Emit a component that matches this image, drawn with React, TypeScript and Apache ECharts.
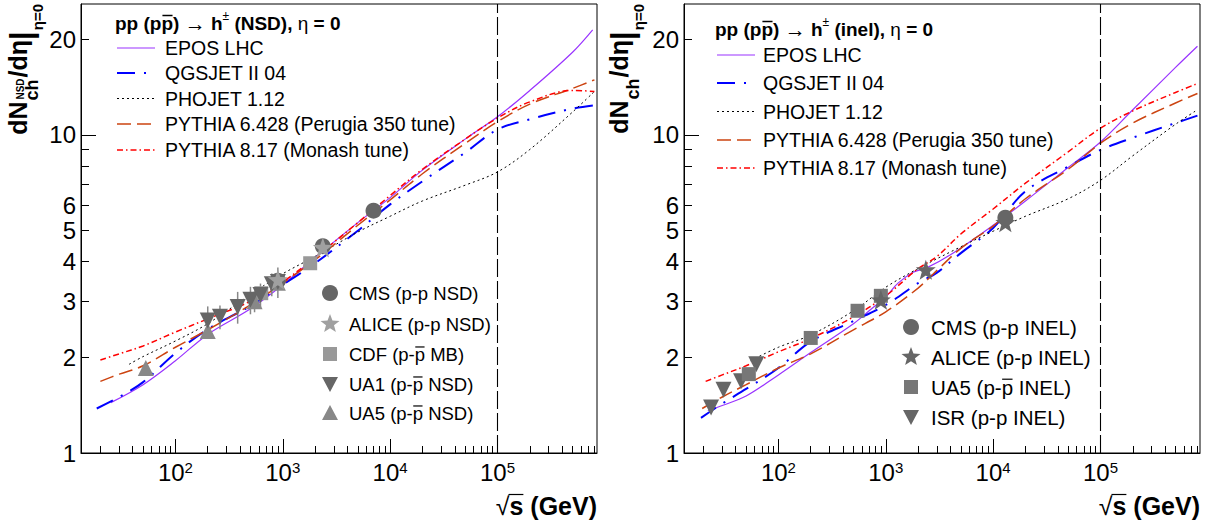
import React, { useEffect, useRef } from "react";
import * as echarts from "echarts";

// ---------------- axes ----------------
const X_MIN = 13.2;
const X_MAX = 845000;
const Y_MIN = 1;
const Y_MAX = 25.8;
const X_LABEL_TICKS = [100, 1000, 10000, 100000];
const X_MINOR_TICKS = [
  20, 30, 40, 50, 60, 70, 80, 90,
  200, 300, 400, 500, 600, 700, 800, 900,
  2000, 3000, 4000, 5000, 6000, 7000, 8000, 9000,
  20000, 30000, 40000, 50000, 60000, 70000, 80000, 90000,
  200000, 300000, 400000, 500000, 600000, 700000, 800000,
];
const Y_LABEL_TICKS = [1, 2, 3, 4, 5, 6, 10, 20];
const Y_MAJOR_TICKS = [1, 10];
const Y_MINOR_TICKS = [2, 3, 4, 5, 6, 7, 8, 9, 20];
const LHC_LINE_X = 100000;

const MODEL_NAMES = [
  "EPOS LHC",
  "QGSJET II 04",
  "PHOJET 1.12",
  "PYTHIA 6.428 (Perugia 350 tune)",
  "PYTHIA 8.17 (Monash tune)",
];

// ---------------- NSD panel (left) ----------------
const NSD_EPOS_X = [25, 50, 100, 200, 500, 1000, 2000, 5000, 10000, 20000, 50000, 100000, 200000, 500000, 770000];
const NSD_EPOS_Y = [1.44, 1.64, 1.95, 2.36, 2.84, 3.38, 4.12, 5.3, 6.35, 7.75, 9.7, 11.4, 13.8, 18.2, 21.4];
const NSD_QGS_X = [18.5, 30, 50, 100, 200, 500, 1000, 2000, 5000, 10000, 20000, 50000, 100000, 200000, 500000, 800000];
const NSD_QGS_Y = [1.38, 1.5, 1.67, 2.06, 2.45, 2.9, 3.38, 3.95, 5.0, 6.05, 7.15, 8.8, 10.4, 11.2, 12.1, 12.4];
const NSD_PHO_X = [37, 50, 100, 200, 500, 1000, 2000, 5000, 10000, 20000, 50000, 100000, 200000, 500000, 800000];
const NSD_PHO_Y = [1.9, 2.01, 2.25, 2.55, 3.15, 3.66, 4.15, 4.95, 5.55, 6.2, 6.95, 7.65, 9.0, 11.8, 13.7];
const NSD_PY6_X = [20, 30, 50, 100, 200, 500, 1000, 2000, 5000, 10000, 20000, 50000, 100000, 200000, 500000, 800000];
const NSD_PY6_Y = [1.68, 1.77, 1.88, 2.15, 2.44, 2.92, 3.42, 4.05, 5.2, 6.25, 7.55, 9.4, 11.0, 12.5, 14.0, 14.9];
const NSD_PY8_X = [20, 30, 50, 100, 200, 500, 1000, 2000, 5000, 10000, 20000, 50000, 100000, 200000, 500000, 800000];
const NSD_PY8_Y = [1.96, 2.05, 2.17, 2.4, 2.64, 3.0, 3.45, 4.12, 5.3, 6.45, 7.8, 9.7, 11.3, 12.7, 13.8, 13.7];

const CMS_NSD_X = [900, 2360, 7000];
const CMS_NSD_Y = [3.48, 4.47, 5.78];
const CMS_NSD_ERR = [0.1, 0.1, 0.15];
const ALICE_NSD_X = [900, 2360];
const ALICE_NSD_Y = [3.51, 4.43];
const ALICE_NSD_ERR = [0.12, 0.12];
const CDF_X = [630, 1800];
const CDF_Y = [3.18, 3.95];
const CDF_ERR = [0.1, 0.12];
const UA1_X = [200, 260, 380, 500, 620, 790, 900];
const UA1_Y = [2.61, 2.68, 2.88, 3.03, 3.14, 3.39, 3.45];
const UA1_ERR = [0.28, 0.23, 0.33, 0.3, 0.27, 0.28, 0.38];
const UA5_NSD_X = [53, 200, 546, 900];
const UA5_NSD_Y = [1.85, 2.42, 3.0, 3.43];
const UA5_NSD_ERR = [0.05, 0.1, 0.23, 0.1];

// ---------------- INEL panel (right) ----------------
const INEL_EPOS_X = [22, 30, 50, 100, 200, 500, 700, 1000, 1300, 1800, 2400, 4000, 10000, 20000, 50000, 100000, 200000, 500000, 800000];
const INEL_EPOS_Y = [1.36, 1.41, 1.51, 1.76, 2.07, 2.55, 2.8, 3.1, 3.42, 3.7, 3.82, 4.2, 5.2, 6.2, 7.9, 9.5, 12.0, 16.3, 19.0];
const INEL_QGS_X = [19, 30, 50, 100, 200, 500, 1000, 2000, 3000, 5000, 10000, 20000, 50000, 100000, 200000, 500000, 800000];
const INEL_QGS_Y = [1.29, 1.43, 1.59, 1.85, 2.24, 2.6, 2.92, 3.42, 3.69, 4.25, 5.1, 6.65, 7.95, 8.97, 9.8, 10.9, 11.5];
const INEL_PHO_X = [55, 100, 200, 500, 1000, 2000, 5000, 10000, 20000, 50000, 100000, 200000, 500000, 800000];
const INEL_PHO_Y = [1.95, 2.15, 2.35, 2.8, 3.32, 3.8, 4.45, 4.98, 5.55, 6.3, 7.2, 8.6, 10.8, 12.0];
const INEL_PY6_X = [19.5, 30, 50, 100, 200, 500, 1000, 2000, 3000, 5000, 10000, 20000, 50000, 100000, 200000, 500000, 800000];
const INEL_PY6_Y = [1.38, 1.5, 1.64, 1.85, 2.05, 2.44, 2.78, 3.3, 3.75, 4.4, 5.17, 6.3, 7.8, 9.42, 10.9, 12.6, 13.5];
const INEL_PY8_X = [21, 30, 50, 100, 200, 500, 1000, 2000, 3000, 5000, 10000, 20000, 50000, 100000, 200000, 500000, 800000];
const INEL_PY8_Y = [1.68, 1.76, 1.88, 2.08, 2.29, 2.68, 3.12, 3.8, 4.15, 4.88, 5.85, 7.05, 8.85, 10.5, 11.9, 13.6, 14.5];

const CMS_INEL_X = [13000];
const CMS_INEL_Y = [5.49];
const CMS_INEL_ERR = [0.15];
const ALICE_INEL_X = [900, 2360, 13000];
const ALICE_INEL_Y = [3.03, 3.77, 5.31];
const ALICE_INEL_ERR = [0.06, 0.15, 0.18];
const UA5_INEL_X = [53, 200, 546, 900];
const UA5_INEL_Y = [1.77, 2.3, 2.8, 3.12];
const UA5_INEL_ERR = [0.05, 0.05, 0.08, 0.1];
const ISR_X = [23.6, 30.8, 44.9, 62.2];
const ISR_Y = [1.39, 1.58, 1.68, 1.9];
const ISR_ERR = [0.05, 0.05, 0.05, 0.05];

// ---------------- styles ----------------
const FF = "'Liberation Sans', Arial, Helvetica, sans-serif";
const MODEL_STYLES = [
  { color: "#9933ff", width: 1.2, dash: "solid" as any },
  { color: "#0000ff", width: 2, dash: [18, 9, 2, 9] },
  { color: "#000000", width: 1, dash: [2, 3] },
  { color: "#cc4411", width: 1.5, dash: [14, 6] },
  { color: "#ff0000", width: 1.5, dash: [6, 3, 1.5, 3] },
];

let measureCtx: CanvasRenderingContext2D | null = null;
function tw(text: string, size: number, weight: string = "normal"): number {
  if (!measureCtx) measureCtx = document.createElement("canvas").getContext("2d");
  measureCtx!.font = `${weight} ${size}px ${FF}`;
  return measureCtx!.measureText(text).width;
}

function txt(x: number, y: number, text: string, size: number, weight = "normal", align = "left"): any {
  return {
    type: "text",
    x,
    y,
    silent: true,
    style: {
      text,
      fontSize: size,
      fontWeight: weight,
      fontFamily: FF,
      fill: "#000",
      align,
      verticalAlign: "middle",
      textAlign: align,
      textVerticalAlign: "middle",
    },
  };
}

function hline(x1: number, x2: number, y: number, w = 1.3): any {
  return { type: "line", silent: true, shape: { x1, y1: y, x2, y2: y }, style: { stroke: "#000", lineWidth: w } };
}

function header(x0: number, yc: number, channel: string): any[] {
  const B = 19;
  const segs = [
    { t: "pp (pp) ", w: "bold", s: B, dy: 0 },
    { t: "\u2192", w: "normal", s: 21, dy: 0 },
    { t: " h", w: "bold", s: B, dy: 0 },
    { t: "\u00b1", w: "normal", s: 12, dy: -7 },
    { t: ` (${channel}), `, w: "bold", s: B, dy: 0 },
    { t: "\u03b7", w: "normal", s: B, dy: 0 },
    { t: " = 0", w: "bold", s: B, dy: 0 },
  ];
  const els: any[] = [];
  let x = x0;
  for (const sg of segs) {
    els.push(txt(x, yc + sg.dy, sg.t, sg.s, sg.w));
    x += tw(sg.t, sg.s, sg.w);
  }
  const a = x0 + tw("pp (p", B, "bold");
  const b = x0 + tw("pp (pp", B, "bold");
  els.push(hline(a + 1, b - 0.5, yc - 7.5, 1.5));
  return els;
}

function modelLegend(xLine: number, xText: number, ys: number[]): any[] {
  const els: any[] = [];
  MODEL_NAMES.forEach((name, i) => {
    const st = MODEL_STYLES[i];
    els.push({
      type: "line",
      silent: true,
      shape: { x1: xLine, y1: ys[i], x2: xLine + 38, y2: ys[i] },
      style: { stroke: st.color, lineWidth: st.width, lineDash: Array.isArray(st.dash) ? st.dash : null },
    });
    els.push(txt(xText, ys[i], name, 19.5));
  });
  return els;
}

function starPoints(cx: number, cy: number, R: number): number[][] {
  const pts: number[][] = [];
  for (let k = 0; k < 10; k++) {
    const r = k % 2 === 0 ? R : R * 0.42;
    const a = -Math.PI / 2 + (k * Math.PI) / 5;
    pts.push([cx + r * Math.cos(a), cy + r * Math.sin(a)]);
  }
  return pts;
}

function markerGraphic(kind: string, cx: number, cy: number, color: string): any {
  const style = { fill: color };
  if (kind === "circle") return { type: "circle", silent: true, shape: { cx, cy, r: 8 }, style };
  if (kind === "rect") return { type: "rect", silent: true, shape: { x: cx - 7, y: cy - 7, width: 14, height: 14 }, style };
  if (kind === "star") return { type: "polygon", silent: true, shape: { points: starPoints(cx, cy, 10) }, style };
  if (kind === "tri") return { type: "polygon", silent: true, shape: { points: [[cx, cy - 8], [cx + 8, cy + 7], [cx - 8, cy + 7]] }, style };
  return { type: "polygon", silent: true, shape: { points: [[cx - 8, cy - 7], [cx + 8, cy - 7], [cx, cy + 8]] }, style };
}

function dataLegendItem(kind: string, color: string, xm: number, xt: number, y: number, text: string, size: number, bar: boolean): any[] {
  const els = [markerGraphic(kind, xm, y, color), txt(xt, y, text, size)];
  if (bar) {
    const j = text.indexOf("p-p");
    const a = xt + tw(text.slice(0, j + 2), size);
    const b = xt + tw(text.slice(0, j + 3), size);
    els.push(hline(a + 0.5, b - 0.5, y - size * 0.38, 1.2));
  }
  return els;
}

function yTitle(baseX: number, yTop: number, withNSD: boolean): any {
  const big = 25;
  const ch: any[] = [];
  let u = 0;
  ch.push(txt(u, baseX - 0.35 * big, "dN", big, "bold"));
  u += tw("dN", big, "bold") + 1;
  let sw = tw("ch", 18, "bold");
  ch.push(txt(u, baseX + 5, "ch", 18, "bold"));
  if (withNSD) {
    ch.push(txt(u + 1, baseX - 7, "NSD", 10, "bold"));
    sw = Math.max(sw, tw("NSD", 10, "bold") + 1);
  }
  u += sw + 1;
  ch.push(txt(u, baseX - 0.35 * big, "/d\u03b7", big, "bold"));
  u += tw("/d\u03b7", big, "bold");
  ch.push(txt(u, baseX - 6, "|", 31, "bold"));
  u += tw("|", 31, "bold") + 1;
  ch.push(txt(u, baseX + 10, "\u03b7=0", 15, "bold"));
  u += tw("\u03b7=0", 15, "bold");
  return { type: "group", x: 0, y: yTop + u, rotation: Math.PI / 2, children: ch };
}

function xTitle(xRight: number, yc: number): any[] {
  const S = 25;
  const w1 = tw("\u221a", S, "normal");
  const w2 = tw("s (GeV)", S, "bold");
  const x0 = xRight - w1 - w2;
  return [
    txt(x0, yc, "\u221a", S, "normal"),
    txt(x0 + w1, yc, "s (GeV)", S, "bold"),
    hline(x0 + w1 - 1, x0 + w1 + tw("s", S, "bold"), yc - 11.5, 1.2),
  ];
}

// ---------------- axes builders ----------------
function xAxesFor(gridIndex: number): any[] {
  return [
    {
      type: "log",
      gridIndex,
      min: X_MIN,
      max: X_MAX,
      position: "bottom",
      axisLine: { show: true, lineStyle: { color: "#000", width: 1 } },
      axisTick: { show: true, inside: true, length: 14, customValues: X_LABEL_TICKS, lineStyle: { color: "#000", width: 1 } },
      axisLabel: {
        show: true,
        customValues: X_LABEL_TICKS,
        margin: 7,
        formatter: (v: number) => `{b|10}{s|${Math.round(Math.log10(v))}}`,
        rich: {
          b: { fontSize: 24, fontFamily: FF, color: "#000" },
          s: { fontSize: 15, fontFamily: FF, color: "#000", verticalAlign: "top" },
        },
      },
      splitLine: { show: false },
      minorTick: { show: false },
    },
    {
      type: "log",
      gridIndex,
      min: X_MIN,
      max: X_MAX,
      position: "bottom",
      axisLine: { show: false },
      axisTick: { show: true, inside: true, length: 7, customValues: X_MINOR_TICKS, lineStyle: { color: "#000", width: 1 } },
      axisLabel: { show: false },
      splitLine: { show: false },
    },
  ];
}

function yAxesFor(gridIndex: number): any[] {
  return [
    {
      type: "log",
      gridIndex,
      min: Y_MIN,
      max: Y_MAX,
      position: "left",
      axisLine: { show: true, lineStyle: { color: "#000", width: 1 } },
      axisTick: { show: true, inside: true, length: 15, customValues: Y_MAJOR_TICKS, lineStyle: { color: "#000", width: 1 } },
      axisLabel: {
        show: true,
        customValues: Y_LABEL_TICKS,
        margin: 5,
        fontSize: 24,
        lineHeight: 19,
        fontFamily: FF,
        color: "#000",
        formatter: (v: number) => String(Math.round(v)),
      },
      splitLine: { show: false },
    },
    {
      type: "log",
      gridIndex,
      min: Y_MIN,
      max: Y_MAX,
      position: "left",
      axisLine: { show: false },
      axisTick: { show: true, inside: true, length: 8, customValues: Y_MINOR_TICKS, lineStyle: { color: "#000", width: 1 } },
      axisLabel: { show: false },
      splitLine: { show: false },
    },
  ];
}

function curve(i: number, xs: number[], ys: number[], panel: number, withLine: boolean): any {
  const st = MODEL_STYLES[i];
  const s: any = {
    type: "line",
    name: MODEL_NAMES[i],
    xAxisIndex: panel * 2,
    yAxisIndex: panel * 2,
    data: xs.map((x, k) => [x, ys[k]]),
    showSymbol: false,
    symbol: "none",
    smooth: 0.35,
    silent: true,
    z: 2,
    lineStyle: { color: st.color, width: st.width, type: st.dash },
  };
  if (withLine) {
    s.markLine = {
      silent: true,
      symbol: ["none", "none"],
      label: { show: false },
      lineStyle: { color: "#000", width: 1.1, type: [18, 4] },
      data: [{ xAxis: LHC_LINE_X }],
    };
  }
  return s;
}

function errBars(xs: number[], ys: number[], errs: number[], panel: number, color: string): any {
  return {
    type: "custom",
    xAxisIndex: panel * 2,
    yAxisIndex: panel * 2,
    silent: true,
    z: 3,
    encode: { x: 0, y: [1, 2] },
    data: xs.map((x, k) => [x, ys[k] - errs[k], ys[k] + errs[k]]),
    renderItem: (_p: any, api: any) => {
      const p1 = api.coord([api.value(0), api.value(1)]);
      const p2 = api.coord([api.value(0), api.value(2)]);
      return {
        type: "line",
        shape: { x1: p1[0], y1: p1[1], x2: p2[0], y2: p2[1] },
        style: { stroke: color, lineWidth: 1.5 },
      };
    },
  };
}

const STAR_PATH =
  "path://M0,-10L2.35,-3.24L9.51,-3.09L3.8,1.24L5.88,8.09L0,4.2L-5.88,8.09L-3.8,1.24L-9.51,-3.09L-2.35,-3.24Z";

function points(name: string, xs: number[], ys: number[], panel: number, symbol: string, size: number, color: string, rotate = 0, z = 5): any {
  return {
    type: "scatter",
    name,
    xAxisIndex: panel * 2,
    yAxisIndex: panel * 2,
    data: xs.map((x, k) => [x, ys[k]]),
    symbol,
    symbolSize: size,
    symbolRotate: rotate,
    itemStyle: { color, opacity: 1 },
    silent: true,
    z,
  };
}

function buildOption(): any {
  const nsdCurves = [
    [NSD_EPOS_X, NSD_EPOS_Y],
    [NSD_QGS_X, NSD_QGS_Y],
    [NSD_PHO_X, NSD_PHO_Y],
    [NSD_PY6_X, NSD_PY6_Y],
    [NSD_PY8_X, NSD_PY8_Y],
  ];
  const inelCurves = [
    [INEL_EPOS_X, INEL_EPOS_Y],
    [INEL_QGS_X, INEL_QGS_Y],
    [INEL_PHO_X, INEL_PHO_Y],
    [INEL_PY6_X, INEL_PY6_Y],
    [INEL_PY8_X, INEL_PY8_Y],
  ];
  const series: any[] = [];
  nsdCurves.forEach((c, i) => series.push(curve(i, c[0], c[1], 0, i === 0)));
  inelCurves.forEach((c, i) => series.push(curve(i, c[0], c[1], 1, i === 0)));

  series.push(errBars(UA1_X, UA1_Y, UA1_ERR, 0, "#888"));
  series.push(errBars(UA5_NSD_X, UA5_NSD_Y, UA5_NSD_ERR, 0, "#888"));
  series.push(errBars(CDF_X, CDF_Y, CDF_ERR, 0, "#888"));
  series.push(errBars(CMS_NSD_X, CMS_NSD_Y, CMS_NSD_ERR, 0, "#888"));
  series.push(errBars(ALICE_NSD_X, ALICE_NSD_Y, ALICE_NSD_ERR, 0, "#888"));
  series.push(errBars(ALICE_INEL_X, ALICE_INEL_Y, ALICE_INEL_ERR, 1, "#777"));
  series.push(errBars(UA5_INEL_X, UA5_INEL_Y, UA5_INEL_ERR, 1, "#777"));
  series.push(errBars(ISR_X, ISR_Y, ISR_ERR, 1, "#777"));
  series.push(errBars(CMS_INEL_X, CMS_INEL_Y, CMS_INEL_ERR, 1, "#777"));

  series.push(points("CMS (p-p NSD)", CMS_NSD_X, CMS_NSD_Y, 0, "circle", 16, "#666666", 0, 5));
  series.push(points("CDF (p-p\u0305 MB)", CDF_X, CDF_Y, 0, "rect", 14, "#999999", 0, 6));
  series.push(points("UA5 (p-p\u0305 NSD)", UA5_NSD_X, UA5_NSD_Y, 0, "triangle", 16, "#888888", 0, 6));
  series.push(points("UA1 (p-p\u0305 NSD)", UA1_X, UA1_Y, 0, "triangle", 16, "#666666", 180, 7));
  series.push(points("ALICE (p-p NSD)", ALICE_NSD_X, ALICE_NSD_Y, 0, STAR_PATH, 20, "#a0a0a0", 0, 8));
  series.push(points("ISR (p-p INEL)", ISR_X, ISR_Y, 1, "triangle", 16, "#666666", 180, 5));
  series.push(points("UA5 (p-p\u0305 INEL)", UA5_INEL_X, UA5_INEL_Y, 1, "rect", 14, "#777777", 0, 6));
  series.push(points("ALICE (p-p INEL)", ALICE_INEL_X, ALICE_INEL_Y, 1, STAR_PATH, 20, "#666666", 0, 6));
  series.push(points("CMS (p-p INEL)", CMS_INEL_X, CMS_INEL_Y, 1, "circle", 16, "#666666", 0, 7));

  const graphics: any[] = [];
  graphics.push(...header(115, 23, "NSD"));
  graphics.push(...header(715, 29, "inel"));
  graphics.push(...modelLegend(117, 165, [48, 73, 98.5, 124, 150]));
  graphics.push(...modelLegend(717, 763, [55, 83, 111.5, 140, 168]));

  const lRows = [293, 324, 354, 384, 413];
  graphics.push(...dataLegendItem("circle", "#666666", 330, 349, lRows[0], "CMS (p-p NSD)", 18.5, false));
  graphics.push(...dataLegendItem("star", "#a0a0a0", 330, 349, lRows[1], "ALICE (p-p NSD)", 18.5, false));
  graphics.push(...dataLegendItem("rect", "#999999", 330, 349, lRows[2], "CDF (p-p MB)", 18.5, true));
  graphics.push(...dataLegendItem("down", "#666666", 330, 349, lRows[3], "UA1 (p-p NSD)", 18.5, true));
  graphics.push(...dataLegendItem("tri", "#888888", 330, 349, lRows[4], "UA5 (p-p NSD)", 18.5, true));

  const rRows = [327, 357, 387, 417];
  graphics.push(...dataLegendItem("circle", "#666666", 911, 931, rRows[0], "CMS (p-p INEL)", 20.5, false));
  graphics.push(...dataLegendItem("star", "#666666", 911, 931, rRows[1], "ALICE (p-p INEL)", 20.5, false));
  graphics.push(...dataLegendItem("rect", "#777777", 911, 931, rRows[2], "UA5 (p-p INEL)", 20.5, true));
  graphics.push(...dataLegendItem("down", "#666666", 911, 931, rRows[3], "ISR (p-p INEL)", 20.5, false));

  graphics.push(yTitle(27, 4, true));
  graphics.push(yTitle(628, 4, false));
  graphics.push(...xTitle(597, 506));
  graphics.push(...xTitle(1200, 506));

  return {
    animation: false,
    backgroundColor: "#ffffff",
    grid: [
      { left: 81, top: 4, width: 516, height: 449, show: true, borderColor: "#000", borderWidth: 1, containLabel: false },
      { left: 684, top: 4, width: 516, height: 449, show: true, borderColor: "#000", borderWidth: 1, containLabel: false },
    ],
    xAxis: [...xAxesFor(0), ...xAxesFor(1)],
    yAxis: [...yAxesFor(0), ...yAxesFor(1)],
    series,
    graphic: { elements: graphics },
  };
}

export default function App() {
  const ref = useRef<HTMLDivElement>(null);
  useEffect(() => {
    if (!ref.current) return;
    const chart = echarts.init(ref.current, null, { renderer: "svg" });
    chart.setOption(buildOption());
    return () => chart.dispose();
  }, []);
  return (
    <div
      ref={ref}
      style={{ position: "fixed", left: 0, top: 0, width: 1212, height: 521, background: "#fff" }}
    />
  );
}
